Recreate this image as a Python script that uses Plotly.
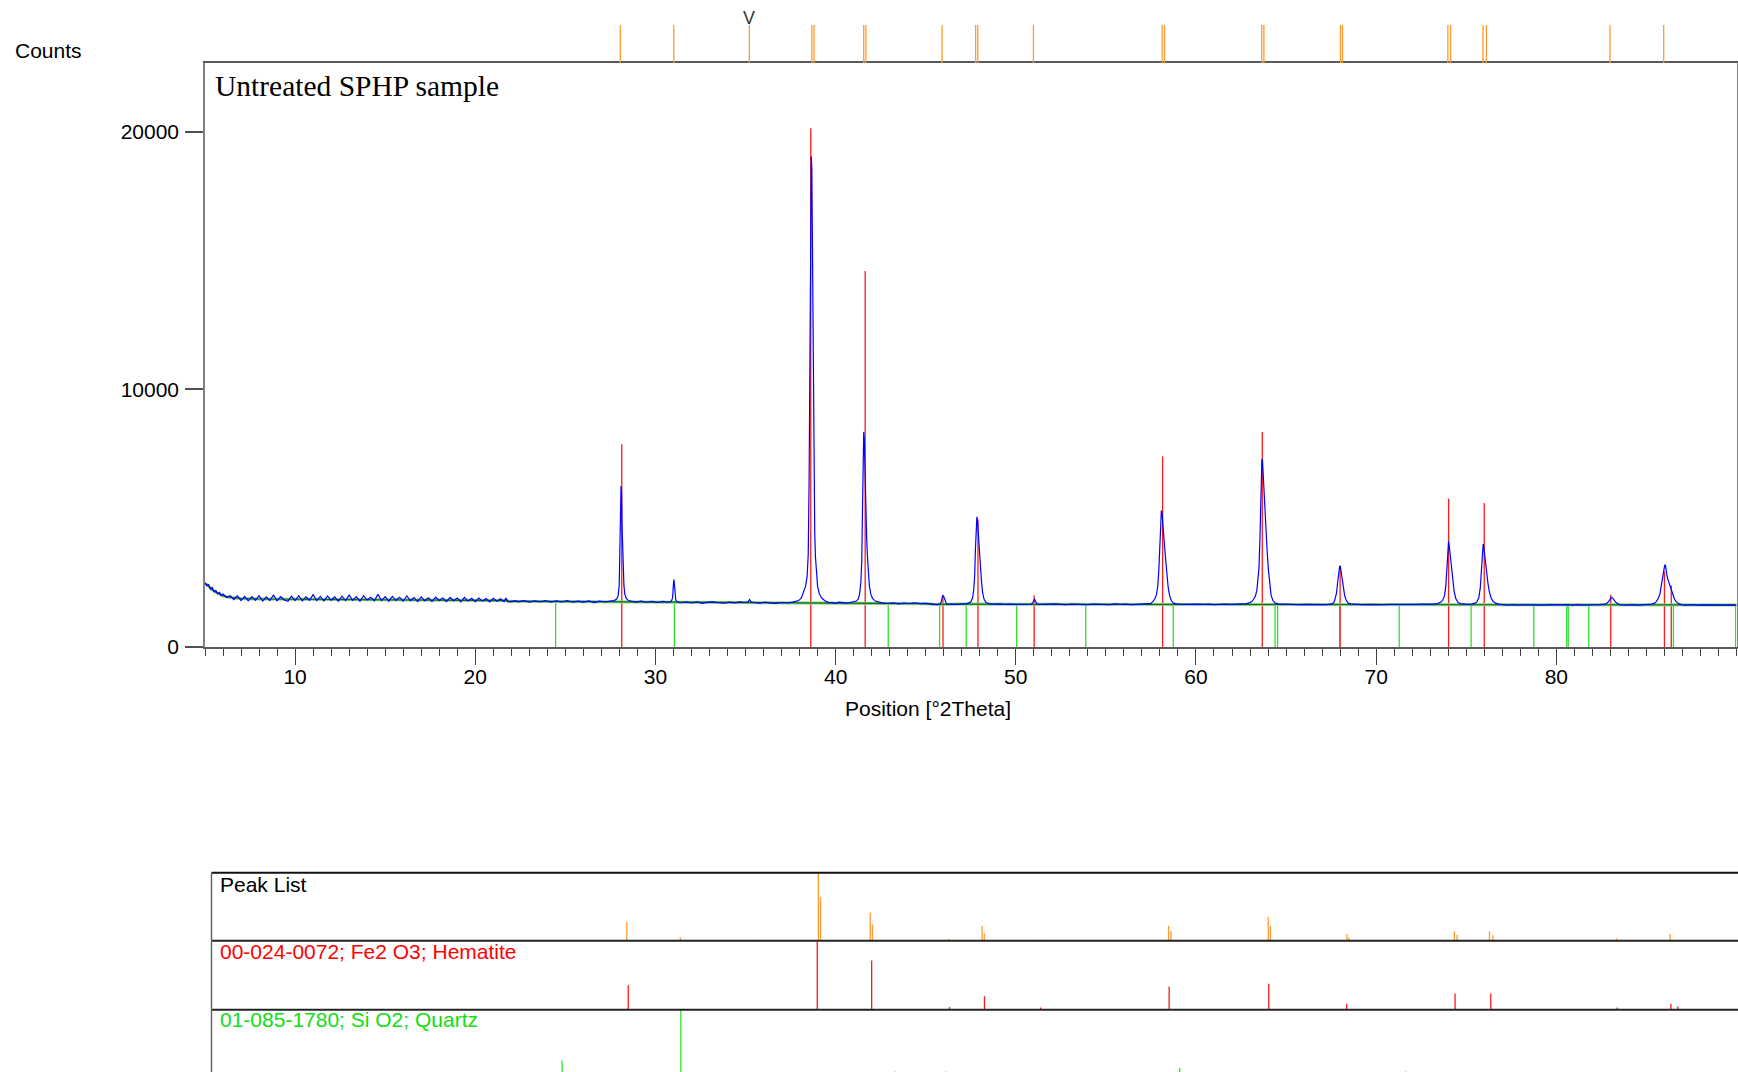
import plotly.graph_objects as go

W, H = 1738, 1072

# ---------------- data ----------------
scan_low_angle = [
    (5.00, 2480), (5.10, 2380), (5.20, 2420), (5.30, 2250), (5.40, 2310), (5.50, 2150), (5.60, 2190),
    (5.70, 2060), (5.80, 2120), (5.90, 1990), (6.00, 2050), (6.20, 1920), (6.40, 1990), (6.60, 1840),
    (6.80, 1980), (7.00, 1800), (7.20, 1960), (7.40, 1790), (7.60, 1950), (7.80, 1810), (8.00, 1990),
    (8.20, 1780), (8.40, 1940), (8.60, 1800), (8.80, 2010), (9.00, 1790), (9.20, 1950), (9.40, 1820),
    (9.60, 1770), (9.80, 1970), (10.0, 1800), (10.2, 1990), (10.4, 1790), (10.6, 1940), (10.8, 1810),
    (11.0, 2030), (11.2, 1800), (11.4, 1960), (11.6, 1780), (11.8, 1980), (12.0, 1810), (12.2, 1940),
    (12.4, 1770), (12.6, 1970), (12.8, 1800), (13.0, 2010), (13.2, 1810), (13.4, 1950), (13.6, 1770),
    (13.8, 1990), (14.0, 1820), (14.2, 1930), (14.4, 1790), (14.6, 2040), (14.8, 1800), (15.0, 1950),
    (15.2, 1770), (15.4, 1960), (15.6, 1810), (15.8, 1930), (16.0, 1780), (16.2, 1980), (16.4, 1800),
    (16.6, 1920), (16.8, 1760), (17.0, 1940), (17.2, 1790), (17.4, 1910), (17.6, 1760), (17.8, 1930),
    (18.0, 1800), (18.2, 1900), (18.4, 1760), (18.6, 1920), (18.8, 1790), (19.0, 1900), (19.2, 1750),
    (19.4, 1920), (19.6, 1780), (19.8, 1890), (20.0, 1760), (20.2, 1900), (20.4, 1770), (20.6, 1880),
    (20.8, 1750), (21.0, 1890), (21.2, 1770), (21.4, 1870), (21.6, 1760), (21.7, 1900), (21.8, 1770),
    (22.0, 1750), (22.2, 1800), (22.4, 1750), (22.7, 1800), (23.0, 1740), (23.3, 1790), (23.6, 1745),
    (23.9, 1800), (24.2, 1735), (24.5, 1785), (24.8, 1745), (25.1, 1795), (25.4, 1735), (25.7, 1780),
    (26.0, 1740), (26.3, 1790), (26.6, 1720), (26.9, 1775), (27.2, 1745), (27.5, 1780),
    # hematite 012
    (27.70, 1800), (27.85, 1860), (27.93, 1980), (27.99, 2400), (28.03, 3600), (28.06, 5200), (28.09, 6250),
    (28.12, 6000), (28.15, 4600), (28.18, 3900), (28.21, 3100), (28.25, 2400), (28.30, 2050), (28.38, 1880),
    (28.50, 1800), (28.65, 1780),
    (28.9, 1740), (29.2, 1780), (29.5, 1735), (29.8, 1770), (30.1, 1725), (30.4, 1765), (30.7, 1735),
    # quartz 101
    (30.88, 1770), (30.95, 1900), (30.99, 2350), (31.02, 2620), (31.05, 2450), (31.08, 2050), (31.13, 1820),
    (31.20, 1750),
    (31.4, 1715), (31.7, 1750), (32.0, 1705), (32.3, 1745), (32.6, 1695), (32.9, 1740), (33.2, 1750),
    (33.5, 1715), (33.8, 1695), (34.1, 1740), (34.4, 1710), (34.7, 1745), (35.0, 1725), (35.15, 1760),
    (35.22, 1840), (35.30, 1750), (35.5, 1715), (35.8, 1700), (36.1, 1735), (36.4, 1700), (36.7, 1690),
    (37.0, 1725), (37.3, 1705), (37.6, 1740), (37.8, 1760),
]

scan_mid_angle = [
    # hematite 104
    (37.95, 1800), (38.10, 1900), (38.22, 2100), (38.33, 2350), (38.42, 2750), (38.48, 3600), (38.53, 6500),
    (38.57, 12000), (38.61, 17200), (38.65, 19050), (38.68, 18600), (38.71, 15800), (38.74, 11500),
    (38.77, 7600), (38.80, 5600), (38.84, 4500), (38.88, 3500), (38.93, 2800), (39.00, 2350), (39.10, 2050),
    (39.22, 1900), (39.40, 1790), (39.60, 1730),
    (39.8, 1720), (40.0, 1695), (40.2, 1735), (40.4, 1705), (40.6, 1700), (40.8, 1725), (41.0, 1740),
    (41.15, 1780),
    # hematite 110
    (41.25, 1850), (41.33, 2050), (41.40, 2500), (41.45, 3300), (41.49, 5200), (41.53, 7800), (41.56, 8350),
    (41.59, 8100), (41.62, 7000), (41.65, 6000), (41.68, 5500), (41.72, 4300), (41.76, 3600), (41.81, 2900),
    (41.87, 2400), (41.95, 2050), (42.05, 1880), (42.20, 1780), (42.40, 1730),
    (42.6, 1710), (42.9, 1685), (43.2, 1710), (43.5, 1675), (43.8, 1705), (44.1, 1685), (44.4, 1715),
    (44.7, 1680), (45.0, 1690), (45.3, 1670), (45.6, 1640),
    (45.75, 1660), (45.85, 1720), (45.91, 1900), (45.95, 2000), (46.00, 1960), (46.06, 1820), (46.14, 1690),
    (46.25, 1650),
    (46.4, 1660), (46.7, 1650), (47.0, 1670), (47.3, 1680), (47.5, 1740),
    # hematite 113
    (47.60, 1900), (47.67, 2250), (47.72, 2800), (47.76, 3800), (47.80, 4700), (47.84, 5050), (47.87, 4950),
    (47.90, 4600), (47.94, 4100), (47.98, 3600), (48.03, 3000), (48.09, 2600), (48.16, 2100), (48.24, 1850),
    (48.35, 1720), (48.50, 1680),
    (48.8, 1660), (49.1, 1670), (49.4, 1650), (49.7, 1665), (50.0, 1650), (50.3, 1660), (50.6, 1645),
    (50.85, 1660), (50.95, 1720), (51.00, 1830), (51.04, 1870), (51.09, 1780), (51.16, 1680), (51.30, 1650),
    (51.6, 1660), (51.9, 1645), (52.2, 1670), (52.5, 1655), (52.8, 1640), (53.1, 1665), (53.4, 1650),
    (53.7, 1660), (54.0, 1640), (54.3, 1665), (54.6, 1650), (54.9, 1660), (55.2, 1645), (55.5, 1670),
    (55.8, 1650), (56.1, 1660), (56.4, 1640), (56.7, 1655), (57.0, 1665), (57.3, 1660), (57.5, 1690),
    # hematite 024
    (57.60, 1760), (57.70, 1850), (57.80, 2000), (57.88, 2350), (57.94, 3000), (57.99, 3900), (58.04, 4800),
    (58.08, 5300), (58.12, 5150), (58.16, 4700), (58.21, 4200), (58.27, 3800), (58.33, 3300), (58.39, 2800),
    (58.46, 2300), (58.54, 1980), (58.63, 1800), (58.75, 1700), (58.90, 1670),
    (59.2, 1650), (59.5, 1660), (59.8, 1645), (60.1, 1665), (60.4, 1650), (60.7, 1660), (61.0, 1640),
    (61.3, 1655), (61.6, 1665), (61.9, 1650), (62.2, 1660), (62.5, 1645), (62.8, 1680), (63.0, 1720),
]

scan_high_angle = [
    # hematite 116
    (63.10, 1760), (63.20, 1850), (63.30, 1980), (63.38, 2200), (63.45, 2600), (63.50, 3100), (63.55, 4200),
    (63.59, 5700), (63.63, 7000), (63.66, 7300), (63.69, 7250), (63.72, 6800), (63.76, 6000), (63.80, 5600),
    (63.85, 5000), (63.90, 4300), (63.96, 3600), (64.02, 3000), (64.09, 2400), (64.17, 2000), (64.27, 1800),
    (64.40, 1700), (64.55, 1670),
    (64.8, 1660), (65.1, 1650), (65.4, 1660), (65.7, 1640), (66.0, 1655), (66.3, 1645), (66.6, 1660),
    (66.9, 1650), (67.2, 1640), (67.5, 1660), (67.65, 1720),
    (67.72, 1860), (67.80, 2100), (67.87, 2550), (67.93, 2950), (67.98, 3150), (68.02, 3100), (68.07, 2850),
    (68.12, 2600), (68.18, 2300), (68.25, 2000), (68.33, 1820), (68.45, 1700), (68.60, 1670),
    (68.9, 1650), (69.2, 1640), (69.5, 1655), (69.8, 1645), (70.1, 1660), (70.4, 1640), (70.7, 1650),
    (71.0, 1645), (71.3, 1660), (71.6, 1640), (71.9, 1655), (72.2, 1650), (72.5, 1665), (72.8, 1650),
    (73.1, 1660), (73.4, 1680), (73.6, 1740),
    (73.70, 1820), (73.80, 2000), (73.87, 2400), (73.93, 3200), (73.98, 3800), (74.02, 4100), (74.06, 3900),
    (74.10, 3600), (74.15, 3300), (74.20, 2900), (74.26, 2550), (74.33, 2150), (74.42, 1880), (74.55, 1720),
    (74.70, 1680),
    (74.9, 1660), (75.1, 1650), (75.3, 1660), (75.5, 1700),
    (75.60, 1760), (75.70, 1920), (75.78, 2300), (75.85, 3100), (75.90, 3700), (75.94, 4000), (75.98, 3850),
    (76.02, 3550), (76.07, 3300), (76.13, 2950), (76.20, 2500), (76.28, 2150), (76.38, 1900), (76.50, 1760),
    (76.65, 1690),
    (76.8, 1660), (77.0, 1640), (77.3, 1625), (77.6, 1640), (77.9, 1620), (78.2, 1635), (78.5, 1625),
    (78.8, 1640), (79.1, 1630), (79.4, 1620), (79.7, 1640), (80.0, 1625), (80.3, 1635), (80.6, 1645),
    (80.9, 1625), (81.2, 1640), (81.5, 1620), (81.8, 1635), (82.1, 1625), (82.4, 1640), (82.7, 1660),
    (82.85, 1720), (82.95, 1810), (83.05, 1920), (83.12, 1900), (83.20, 1830), (83.30, 1730), (83.45, 1660),
    (83.60, 1635),
    (83.9, 1625), (84.2, 1640), (84.5, 1620), (84.8, 1635), (85.1, 1640), (85.3, 1660), (85.45, 1700),
    (85.55, 1760), (85.65, 1880), (85.75, 2050), (85.83, 2400), (85.90, 2750), (85.96, 2950), (86.01, 3150),
    (86.05, 3200), (86.09, 2900), (86.14, 2780), (86.20, 2600), (86.27, 2450), (86.33, 2300), (86.40, 2150),
    (86.48, 2000), (86.56, 1850), (86.65, 1760), (86.78, 1680), (86.95, 1640),
    (87.2, 1625), (87.5, 1640), (87.8, 1620), (88.1, 1635), (88.4, 1625), (88.7, 1640), (89.0, 1630),
    (89.3, 1620), (89.6, 1635), (89.9, 1630), (90.0, 1625),
]

background_two_theta = [5.0, 5.2, 5.4, 5.6, 5.8, 6.0, 6.4, 7.0, 8.0, 10.0, 12.0, 14.0, 16.5, 16.6, 19.0,
                        21.7, 21.8, 25.0, 28.0, 30.0, 33.0, 36.0, 39.0, 42.0, 45.0, 45.5, 47.0, 50.0,
                        55.0, 60.0, 65.0, 70.0, 75.0, 80.0, 85.0, 90.0]
background_counts = [2480, 2330, 2220, 2120, 2040, 1980, 1920, 1880, 1860, 1855, 1850, 1845, 1840, 1815,
                     1810, 1800, 1775, 1765, 1755, 1740, 1725, 1715, 1705, 1690, 1680, 1650, 1665, 1655,
                     1650, 1650, 1648, 1640, 1638, 1635, 1632, 1630]

peak_list_pos = [28.05, 31.02, 35.21, 38.68, 38.80, 41.56, 41.68, 45.91, 47.77, 47.89, 50.98, 58.12,
                 58.25, 63.65, 63.77, 68.02, 68.13, 73.98, 74.13, 75.93, 76.12, 82.98, 85.96]
peak_list_rel = [28, 5, 1.5, 100, 64, 41, 24, 3, 22, 11, 2, 22, 14, 35, 22, 10, 5, 14, 9, 14, 8, 3.5, 10]

hematite_pos = [28.13, 38.62, 41.64, 45.96, 47.90, 51.02, 58.15, 63.68, 68.00, 74.02, 76.00, 83.02,
                86.00, 86.38]
hematite_top_counts = [7870, 20150, 14600, 2030, 4950, 2010, 7400, 8350, 3150, 5760, 5590, 2030, 2930, 2380]
hematite_rel = [36, 100, 72, 4, 20, 3.4, 34, 38, 9, 24, 24, 3.4, 9, 5]

quartz_pos = [24.46, 31.05, 42.92, 45.77, 47.25, 50.05, 53.88, 58.74, 64.39, 64.53, 67.98, 71.28, 75.27,
              78.75, 80.58, 80.66, 81.80, 86.50, 89.95]
quartz_top_counts = [1765, 1740, 1690, 1680, 1665, 1655, 1650, 1650, 1648, 1648, 1640, 1640, 1638, 1635,
                     1635, 1635, 1635, 1632, 1630]
quartz_rel = [26, 100, 10, 10, 4, 6, 4, 15, 8, 3, 5, 10, 4, 2, 4, 2, 2, 2, 3]

x_tick_values = [10, 20, 30, 40, 50, 60, 70, 80]
y_tick_values = [0, 10000, 20000]

sample_label = "Untreated SPHP sample"
phase_labels = ["Peak List", "00-024-0072; Fe2 O3; Hematite", "01-085-1780; Si O2; Quartz"]

scan = scan_low_angle + scan_mid_angle + scan_high_angle
scan_two_theta = [p[0] for p in scan]
scan_counts = [p[1] for p in scan]

# ---------------- helpers ----------------
# the captured picture comes out about 1% shorter vertically than the layout;
# the figure is made a little taller so that it still fills the picture, and
# vertical positions are given in picture pixels against the effective height
V_SCALE = 0.99
FIG_H = round(H / V_SCALE)
HR = FIG_H * V_SCALE


def fx(px):
    return px / W


def fy(py):
    return 1 - py / HR


def sticks(xs, bottoms, tops):
    sx, sy = [], []
    for x, b, t in zip(xs, bottoms, tops):
        sx += [x, x, None]
        sy += [b, t, None]
    return sx, sy


FONT = "Liberation Sans, Arial, sans-serif"
RED = "#ff1a1a"
GREEN = "#2ee02e"
ORANGE = "#ff9a30"
BLUE = "#0000ff"

fig = go.Figure()

qx, qy = sticks(quartz_pos, [0] * len(quartz_pos), quartz_top_counts)
fig.add_trace(go.Scatter(x=qx, y=qy, mode="lines", line=dict(color=GREEN, width=1.3),
                         hoverinfo="skip", showlegend=False))
hx, hy = sticks(hematite_pos, [0] * len(hematite_pos), hematite_top_counts)
fig.add_trace(go.Scatter(x=hx, y=hy, mode="lines", line=dict(color=RED, width=1.3),
                         hoverinfo="skip", showlegend=False))
fig.add_trace(go.Scatter(x=background_two_theta, y=background_counts, mode="lines",
                         line=dict(color="#8cc88c", width=3), hoverinfo="skip", showlegend=False))
fig.add_trace(go.Scatter(x=background_two_theta, y=background_counts, mode="lines",
                         line=dict(color="#007a00", width=1.2), hoverinfo="skip", showlegend=False))
fig.add_trace(go.Scatter(x=scan_two_theta, y=scan_counts, mode="lines",
                         line=dict(color=BLUE, width=1.2), showlegend=False))

px_, py_ = sticks(peak_list_pos, [0] * len(peak_list_pos), [1] * len(peak_list_pos))
fig.add_trace(go.Scatter(x=px_, y=py_, mode="lines", line=dict(color=ORANGE, width=1.3),
                         xaxis="x2", yaxis="y2", hoverinfo="skip", showlegend=False))

bx, by = sticks(peak_list_pos, [0] * len(peak_list_pos), [r / 100 for r in peak_list_rel])
fig.add_trace(go.Scatter(x=bx, y=by, mode="lines", line=dict(color=ORANGE, width=1.3),
                         xaxis="x3", yaxis="y3", hoverinfo="skip", showlegend=False))
bx, by = sticks(hematite_pos, [0] * len(hematite_pos), [r / 100 for r in hematite_rel])
fig.add_trace(go.Scatter(x=bx, y=by, mode="lines", line=dict(color=RED, width=1.3),
                         xaxis="x3", yaxis="y4", hoverinfo="skip", showlegend=False))
bx, by = sticks(quartz_pos, [0] * len(quartz_pos), [r / 100 for r in quartz_rel])
fig.add_trace(go.Scatter(x=bx, y=by, mode="lines", line=dict(color=GREEN, width=1.3),
                         xaxis="x3", yaxis="y5", hoverinfo="skip", showlegend=False))

# ---------------- layout ----------------
main_left, main_right, main_top, main_bottom = 205, 1736.5, 63, 647
x_range = [5, 90]
y_range = [0, 22680]
px_per_deg = (main_right - main_left) / (x_range[1] - x_range[0])
bottom_left = 211.5
bottom_range = [5, 5 + (W - bottom_left) / px_per_deg]

sub_h = 68.5
p_top, d1, d2 = 873, 941, 1010
q_base = d2 + sub_h

fig.update_layout(
    width=W, height=FIG_H, autosize=False, margin=dict(l=0, r=0, t=0, b=0, pad=0),
    paper_bgcolor="white", plot_bgcolor="white",
    font=dict(family=FONT, size=21, color="black"),
    xaxis=dict(domain=[fx(main_left), fx(main_right)], range=x_range, anchor="y",
               showline=True, linecolor="#5a5a5a", linewidth=1.5, mirror=True,
               ticks="outside", ticklen=16, tickwidth=1.3, tickcolor="#404040",
               tickvals=x_tick_values, ticktext=[str(v) for v in x_tick_values],
               ticklabelstandoff=-6,
               minor=dict(dtick=1, tick0=0, ticks="outside", ticklen=7, tickwidth=1.2, tickcolor="#404040"),
               showgrid=False, zeroline=False, tickfont=dict(size=21, family=FONT)),
    yaxis=dict(domain=[fy(main_bottom), fy(main_top)], range=y_range, anchor="x",
               showline=True, linecolor="#808080", linewidth=1.5, mirror=True,
               ticks="outside", ticklen=18, tickwidth=1.5, tickcolor="#505050",
               tickvals=y_tick_values, ticktext=[str(v) for v in y_tick_values],
               ticklabelstandoff=2,
               showgrid=False, zeroline=False, tickfont=dict(size=21, family=FONT)),
    xaxis2=dict(domain=[fx(main_left), fx(main_right)], range=x_range, matches="x", anchor="y2",
                visible=False),
    yaxis2=dict(domain=[fy(63), fy(25)], range=[0, 1], anchor="x2", visible=False),
    xaxis3=dict(domain=[fx(bottom_left), 1], range=bottom_range, anchor="y3", visible=False),
    yaxis3=dict(domain=[fy(d1), fy(p_top)], range=[0, (d1 - p_top) / sub_h], anchor="x3", visible=False),
    yaxis4=dict(domain=[fy(d2), fy(d1)], range=[0, (d2 - d1) / sub_h], anchor="x3", visible=False),
    yaxis5=dict(domain=[0, fy(d2)], range=[(q_base - HR) / sub_h, (q_base - d2) / sub_h],
                anchor="x3", visible=False),
)

shapes = [dict(type="line", xref="paper", yref="paper", x0=fx(bottom_left), x1=1,
               y0=fy(p_top), y1=fy(p_top), line=dict(color="#111111", width=2))]
for yy in (d1, d2):
    shapes.append(dict(type="line", xref="paper", yref="paper", x0=fx(bottom_left), x1=1,
                       y0=fy(yy), y1=fy(yy), line=dict(color="#222222", width=2)))
shapes.append(dict(type="line", xref="paper", yref="paper", x0=fx(bottom_left), x1=fx(bottom_left),
                   y0=fy(p_top), y1=0, line=dict(color="#666666", width=1.5)))
fig.update_layout(shapes=shapes)

annotations = [
    dict(text="Counts", x=fx(13), y=fy(51), xref="paper", yref="paper", xanchor="left",
         yanchor="middle", showarrow=False, font=dict(size=21, family=FONT, color="black")),
    dict(text=sample_label, x=fx(213), y=fy(86), xref="paper", yref="paper", xanchor="left",
         yanchor="middle", showarrow=False,
         font=dict(size=29.5, family="Liberation Serif, Times New Roman, serif", color="black")),
    dict(text="Position [°2Theta]", x=fx(928), y=fy(709), xref="paper", yref="paper",
         xanchor="center", yanchor="middle", showarrow=False, font=dict(size=21, family=FONT)),
    dict(text="V", x=35.21, y=fy(18), xref="x", yref="paper", xanchor="center", yanchor="middle",
         showarrow=False, font=dict(size=18, family=FONT, color="#333333")),
    dict(text=phase_labels[0], x=fx(218), y=fy(885), xref="paper", yref="paper", xanchor="left",
         yanchor="middle", showarrow=False, font=dict(size=21, family=FONT, color="black")),
    dict(text=phase_labels[1], x=fx(218), y=fy(952), xref="paper", yref="paper", xanchor="left",
         yanchor="middle", showarrow=False, font=dict(size=21, family=FONT, color="#ff0000")),
    dict(text=phase_labels[2], x=fx(218), y=fy(1020), xref="paper", yref="paper", xanchor="left",
         yanchor="middle", showarrow=False, font=dict(size=21, family=FONT, color="#11dd11")),
]
fig.update_layout(annotations=annotations)

page_fix = ("var gd=document.getElementById('{plot_id}');"
            "gd.style.position='fixed';gd.style.left='0px';gd.style.top='0px';"
            "document.body.style.margin='0';document.documentElement.style.overflow='hidden';")
fig.write_html("out.html", config={"displayModeBar": False, "responsive": False}, post_script=page_fix)
